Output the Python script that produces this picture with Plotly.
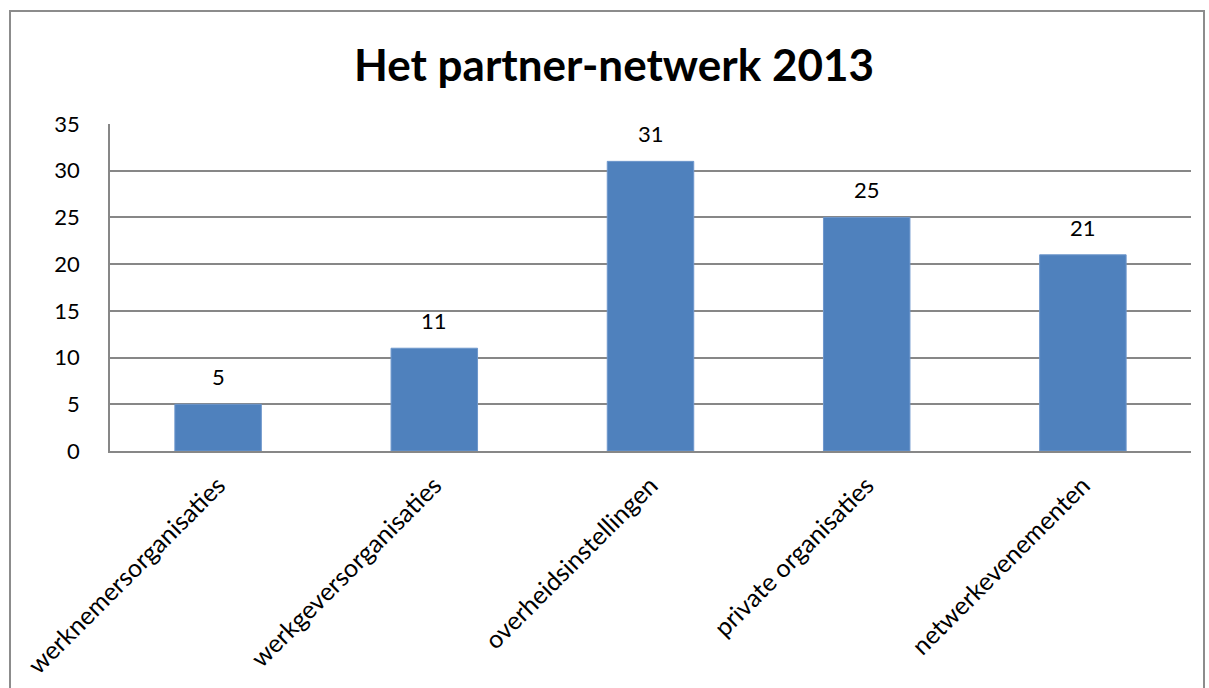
import plotly.graph_objects as go

categories = [
    "werknemersorganisaties",
    "werkgeversorganisaties",
    "overheidsinstellingen",
    "private organisaties",
    "netwerkevenementen",
]
values = [5, 11, 31, 25, 21]
y_ticks = [0, 5, 10, 15, 20, 25, 30, 35]

FONT = "Lato, Carlito, Calibri, sans-serif"
GRID = "#878787"
BAR = "#4F81BD"

W, H = 1209, 688
L, R, T, B = 110, 18, 124, 237
pw, ph = W - L - R, H - T - B

fig = go.Figure(
    go.Bar(
        x=categories,
        y=values,
        marker=dict(color=BAR, line=dict(color="#6E97CC", width=1)),
        width=0.4,
        hoverinfo="skip",
    )
)

# value labels above each bar
for c, v in zip(categories, values):
    fig.add_annotation(
        x=c, y=v, text=str(v), showarrow=False,
        yanchor="bottom", yshift=12,
        font=dict(family=FONT, size=22, color="black"),
    )

# outer chart frame
def px_x(x):
    return (x - L) / pw

def px_y(y):
    return (H - B - y) / ph

fig.add_shape(
    type="rect", xref="paper", yref="paper",
    x0=px_x(10), x1=px_x(1204), y0=px_y(720), y1=px_y(11),
    line=dict(color="#8C8C8C", width=2), fillcolor="rgba(0,0,0,0)",
    layer="below",
)

fig.update_layout(
    width=W, height=H,
    margin=dict(l=L, r=R, t=T, b=B),
    paper_bgcolor="white", plot_bgcolor="white",
    showlegend=False,
    title=dict(
        text="<b>Het partner-netwerk 2013</b>",
        x=614 / W, xanchor="center", xref="container",
        y=1 - 66 / H, yanchor="middle",
        font=dict(family=FONT, size=44, color="black"),
    ),
    bargap=0.6,
)

fig.update_yaxes(
    range=[0, 35], tickvals=y_ticks,
    showgrid=True, gridcolor=GRID, gridwidth=1.5,
    showline=True, linecolor=GRID, linewidth=1.5,
    zeroline=False, ticks="",
    ticklabelstandoff=24,
    tickfont=dict(family=FONT, size=22, color="black"),
    automargin=False,
    fixedrange=True,
)
fig.update_xaxes(
    showline=True, linecolor=GRID, linewidth=2,
    showgrid=False, ticks="", tickangle=-45,
    ticklabelstandoff=8,
    tickfont=dict(family=FONT, size=25, color="black"),
    automargin=False,
    fixedrange=True,
)

fig.write_html("out.html", config={"displayModeBar": False})
